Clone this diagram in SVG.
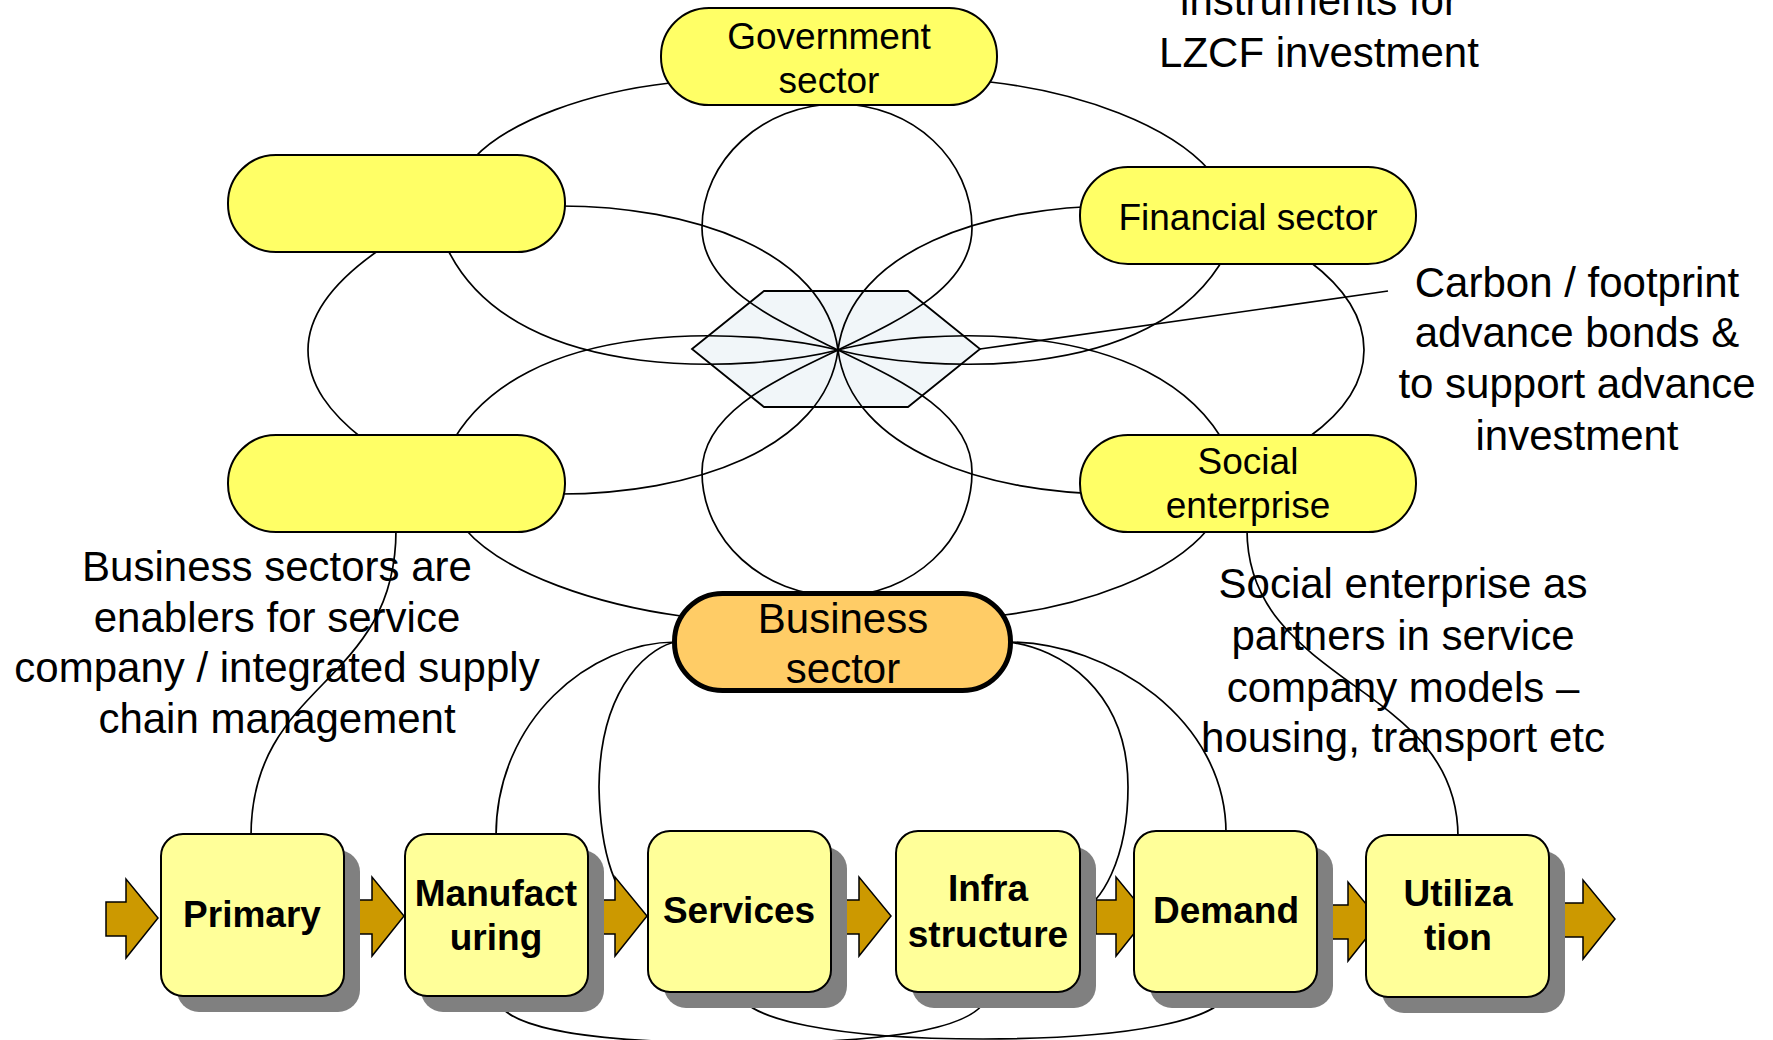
<svg xmlns="http://www.w3.org/2000/svg" width="1773" height="1040" viewBox="0 0 1773 1040">
<style>
text{font-family:"Liberation Sans",Arial,sans-serif;fill:#000}
.lbl{font-size:37px;text-anchor:middle}
.biz{font-size:42px;text-anchor:middle}
.note{font-size:42px;text-anchor:middle}
.box{font-size:37px;font-weight:bold;text-anchor:middle}
.pill{fill:#FFFF66;stroke:#000;stroke-width:2}
.proc{fill:#FFFF99;stroke:#000;stroke-width:2}
.shadow{fill:#808080}
.arrow{fill:#CC9900;stroke:#000;stroke-width:1.5;stroke-linejoin:miter}
.ln{fill:none;stroke:#000;stroke-width:1.7}
</style>
<defs>
<path id="arr" d="M0,23 H20 V0 L52,39 L20,79 V57 H0 Z"/>
</defs>
<rect width="1773" height="1040" fill="#fff"/>

<g id="hub">
<polygon points="692,349 764,291 908,291 980,349 908,407 764,407" fill="#F1F6F9" stroke="#000" stroke-width="1.8"/>
</g>

<g id="connectors" class="ln">
<!-- petals -->
<path d="M838,104 C763,104 702,160 702,228 C702,288 778,321 838,350 C898,321 972,288 972,228 C972,160 913,104 838,104 Z"/>
<path d="M838,596 C763,596 702,540 702,472 C702,412 778,379 838,350 C898,379 972,412 972,472 C972,540 913,596 838,596 Z"/>
<path d="M560,206 C690,206 825,250 838,350 C760,370 520,390 449,252"/>
<path d="M560,494 C690,494 825,450 838,350 C760,330 520,310 449,448"/>
<path d="M1116,206 C986,206 851,250 838,350 C916,370 1156,390 1227,252"/>
<path d="M1116,494 C986,494 851,450 838,350 C916,330 1156,310 1227,448"/>
<!-- outer arcs -->
<path d="M670,83 C590,92 510,120 474,158"/>
<path d="M990,82 C1080,92 1170,125 1210,171"/>
<path d="M382,248 C335,280 308,315 308,350 C308,385 330,413 363,439"/>
<path d="M1309,261 C1345,288 1364,318 1364,350 C1364,382 1345,411 1309,437"/>
<path d="M681,616 C600,605 505,575 465,529"/>
<path d="M1004,615 C1085,605 1170,575 1208,529"/>
<!-- carbon pointer -->
<path d="M980,349 L1388,291"/>
<!-- to value chain -->
<path d="M396,530 C396,608 360,646 323,684 C287,721 251,759 251,836"/>
<path d="M676,642 C590,642 496,720 496,836"/>
<path d="M676,642 C655,645 600,680 599,787 C600,850 615,905 648,917"/>
<path d="M1008,642 C1110,642 1226,720 1226,833"/>
<path d="M1008,642 C1060,648 1128,690 1128,787 C1128,860 1100,905 1079,912"/>
<path d="M1247,530 C1247,608 1300,646 1352,684 C1405,722 1458,759 1458,837"/>
<!-- under boxes -->
<path d="M496,994 C496,1030 600,1043 742,1043 C884,1043 988,1030 988,990"/>
<path d="M739,990 C739,1020 840,1039 983,1039 C1126,1039 1227,1020 1227,990"/>
</g>

<g id="government">
<rect class="pill" x="661" y="8" width="336" height="97" rx="48" ry="48"/>
<text class="lbl" x="829" y="49">Government</text>
<text class="lbl" x="829" y="93">sector</text>
</g>
<g id="node-upper-left">
<rect class="pill" x="228" y="155" width="337" height="97" rx="48" ry="48"/>
</g>
<g id="node-lower-left">
<rect class="pill" x="228" y="435" width="337" height="97" rx="48" ry="48"/>
</g>
<g id="financial">
<rect class="pill" x="1080" y="167" width="336" height="97" rx="48" ry="48"/>
<text class="lbl" x="1248" y="230">Financial sector</text>
</g>
<g id="social">
<rect class="pill" x="1080" y="435" width="336" height="97" rx="48" ry="48"/>
<text class="lbl" x="1248" y="474">Social</text>
<text class="lbl" x="1248" y="518">enterprise</text>
</g>
<g id="business">
<rect x="674.5" y="593.5" width="336" height="97" rx="48" ry="48" fill="#FFCC66" stroke="#000" stroke-width="5"/>
<text class="biz" x="843" y="633">Business</text>
<text class="biz" x="843" y="683">sector</text>
</g>

<g id="arrows">
<use href="#arr" class="arrow" x="106" y="879"/>
<use href="#arr" class="arrow" x="352" y="877"/>
<use href="#arr" class="arrow" x="595" y="877"/>
<use href="#arr" class="arrow" x="839" y="877"/>
<use href="#arr" class="arrow" x="1096" y="877"/>
<use href="#arr" class="arrow" x="1328" y="882"/>
<use href="#arr" class="arrow" x="1563" y="880"/>
</g>

<g id="primary">
<rect class="shadow" x="177" y="850" width="183" height="162" rx="22"/>
<rect class="proc" x="161" y="834" width="183" height="162" rx="22"/>
<text class="box" x="252" y="927">Primary</text>
</g>
<g id="manufacturing">
<rect class="shadow" x="421" y="850" width="183" height="162" rx="22"/>
<rect class="proc" x="405" y="834" width="183" height="162" rx="22"/>
<text class="box" x="496" y="906">Manufact</text>
<text class="box" x="496" y="950">uring</text>
</g>
<g id="services">
<rect class="shadow" x="664" y="847" width="183" height="161" rx="22"/>
<rect class="proc" x="648" y="831" width="183" height="161" rx="22"/>
<text class="box" x="739" y="923">Services</text>
</g>
<g id="infrastructure">
<rect class="shadow" x="912" y="847" width="184" height="161" rx="22"/>
<rect class="proc" x="896" y="831" width="184" height="161" rx="22"/>
<text class="box" x="988" y="901">Infra</text>
<text class="box" x="988" y="947">structure</text>
</g>
<g id="demand">
<rect class="shadow" x="1150" y="847" width="183" height="161" rx="22"/>
<rect class="proc" x="1134" y="831" width="183" height="161" rx="22"/>
<text class="box" x="1226" y="923">Demand</text>
</g>
<g id="utilization">
<rect class="shadow" x="1382" y="851" width="183" height="162" rx="22"/>
<rect class="proc" x="1366" y="835" width="183" height="162" rx="22"/>
<text class="box" x="1458" y="906">Utiliza</text>
<text class="box" x="1458" y="950">tion</text>
</g>

<g id="annotations">
<text class="note" x="1319" y="15">instruments for</text>
<text class="note" x="1319" y="67">LZCF investment</text>
<text class="note" x="1577" y="297">Carbon / footprint</text>
<text class="note" x="1577" y="347">advance bonds &amp;</text>
<text class="note" x="1577" y="398">to support advance</text>
<text class="note" x="1577" y="450">investment</text>
<text class="note" x="277" y="581">Business sectors are</text>
<text class="note" x="277" y="632">enablers for service</text>
<text class="note" x="277" y="682">company / integrated supply</text>
<text class="note" x="277" y="733">chain management</text>
<text class="note" x="1403" y="598">Social enterprise as</text>
<text class="note" x="1403" y="650">partners in service</text>
<text class="note" x="1403" y="702">company models –</text>
<text class="note" x="1403" y="752">housing, transport etc</text>
</g>
</svg>
